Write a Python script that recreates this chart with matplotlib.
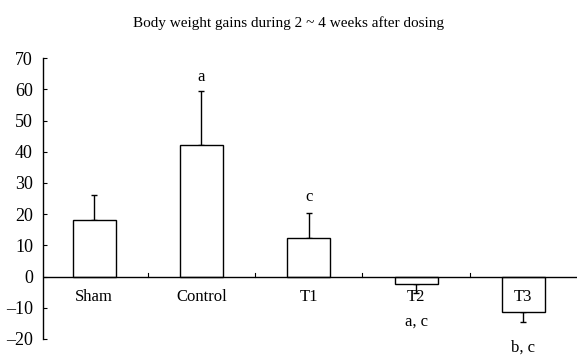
import matplotlib
matplotlib.use("Agg")
import matplotlib.pyplot as plt

plt.rcParams['font.family'] = ['Liberation Serif', 'DejaVu Serif']

# data
groups = ['Sham', 'Control', 'T1', 'T2', 'T3']
gains = [18.0, 42.0, 12.5, -2.3, -11.5]
sd = [8.0, 17.5, 8.0, 3.0, 3.0]
sig_labels = ['', 'a', 'c', 'a, c', 'b, c']
sig_y = [None, 63.8, 25.5, -14.5, -22.8]

fig = plt.figure(figsize=(5.77, 3.61), dpi=100)
ax = fig.add_axes([0.074, 0.061, 0.926, 0.778])

x = list(range(len(groups)))
lower = [s if g < 0 else 0 for g, s in zip(gains, sd)]
upper = [s if g >= 0 else 0 for g, s in zip(gains, sd)]

ax.bar(x, gains, width=0.4, color='white', edgecolor='black', linewidth=1.0, zorder=2)
ax.errorbar(x, gains, yerr=[lower, upper], fmt='none', ecolor='black',
            elinewidth=1.0, capsize=2.5, capthick=1.0, zorder=1)

ax.axhline(0, color='black', linewidth=1.0, zorder=3)
for xt in [0.5, 1.5, 2.5, 3.5]:
    ax.plot([xt, xt], [0, 1.0], color='black', linewidth=0.8, zorder=3)

for i, g in enumerate(groups):
    ax.text(i, -6.6, g, ha='center', va='center', fontsize=12, zorder=4)

for i, (lab, yy) in enumerate(zip(sig_labels, sig_y)):
    if lab:
        ax.text(i, yy, lab, ha='center', va='center', fontsize=12, clip_on=False)

ax.set_xlim(-0.48, 4.5)
ax.set_ylim(-20, 70)
ax.set_yticks(range(-20, 71, 10))
ax.set_yticklabels([str(v).replace('-', '\u2013') for v in range(-20, 71, 10)])
ax.set_xticks([])
ax.tick_params(axis='y', direction='in', length=3, labelsize=13, pad=7)
for side in ['top', 'right', 'bottom']:
    ax.spines[side].set_visible(False)
ax.spines['left'].set_linewidth(1.0)

fig.text(0.5, 0.937, 'Body weight gains during 2 ~ 4 weeks after dosing',
         ha='center', va='center', fontsize=11)

fig.savefig('out.png', dpi=100)
